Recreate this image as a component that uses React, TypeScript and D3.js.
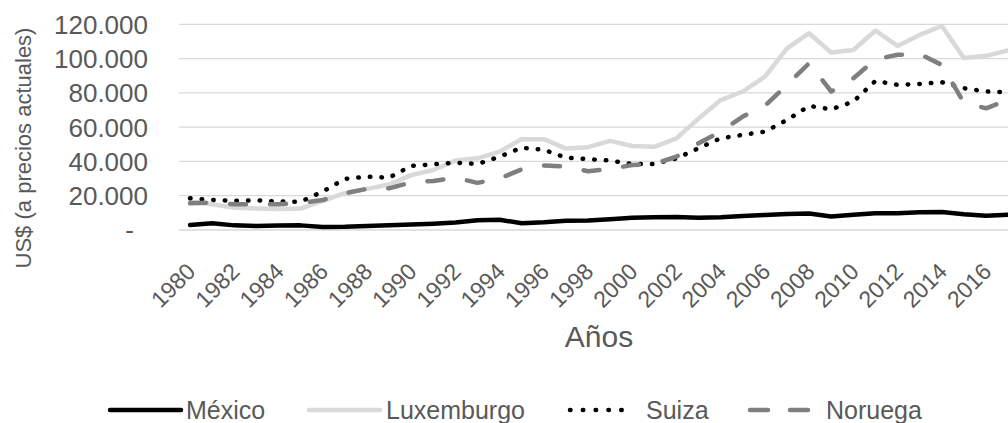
import React from "react";
import * as d3 from "d3";

const years = d3.range(1980, 2018);
const tickYears = d3.range(1980, 2017, 2);
const yTicks = [0, 20000, 40000, 60000, 80000, 100000, 120000];

const mexico = [2900, 3900, 2700, 2300, 2600, 2700, 1800, 1900, 2400, 2800, 3200, 3700, 4400, 5700, 6000, 3900, 4500, 5400, 5600, 6300, 7100, 7500, 7600, 7200, 7500, 8200, 8800, 9300, 9600, 7900, 8900, 9800, 9800, 10300, 10500, 9200, 8300, 8900];
const luxemburgo = [16500, 15000, 13000, 12600, 12300, 12500, 17000, 21500, 24000, 26500, 32000, 35000, 40500, 41800, 45700, 53000, 53000, 47500, 48300, 52000, 49000, 48500, 53500, 65000, 75800, 80800, 89500, 106000, 114800, 103500, 105000, 116400, 107400, 113800, 119000, 100300, 101600, 104700];
const suiza = [18500, 17500, 17100, 17300, 16600, 16500, 22400, 29800, 31100, 30500, 37400, 38300, 39300, 38500, 42800, 48000, 46800, 42200, 41300, 40500, 38500, 38500, 41800, 47700, 53500, 55500, 57400, 64200, 72400, 70400, 74900, 87000, 84700, 85200, 86200, 82700, 80800, 80400];
const noruega = [15600, 16000, 15000, 15000, 15000, 15800, 17500, 21400, 24000, 24300, 27800, 28600, 30500, 27500, 30000, 35400, 37600, 37000, 34300, 35600, 37900, 38500, 42800, 50600, 57400, 66200, 72400, 84700, 97300, 80800, 88500, 99600, 102200, 102700, 96300, 74300, 71000, 75900];

const seriesNames = ["México", "Luxemburgo", "Suiza", "Noruega"];

const W = 1008;
const H = 423;
const FONT = "'Liberation Sans', Arial, sans-serif";
const TXT = "#595959";

type Style = { color: string; dash?: string; cap: "round" | "butt" };
const styles: Style[] = [
  { color: "#000000", cap: "round" },
  { color: "#d9d9d9", cap: "round" },
  { color: "#000000", dash: "0.5 11.1", cap: "round" },
  { color: "#7f7f7f", dash: "16 24", cap: "round" },
];

export default function App() {
  const bw = 22.11;
  const x = d3
    .scaleBand<number>()
    .domain(years)
    .range([179, 179 + bw * years.length])
    .padding(0);
  const xc = (yr: number) => (x(yr) as number) + x.bandwidth() / 2;
  const y = d3.scaleLinear().domain([0, 120000]).range([230, 24.3]);

  const data = [mexico, luxemburgo, suiza, noruega];
  const line = d3
    .line<number>()
    .x((_, i) => xc(years[i]))
    .y((v) => y(v));

  const fmt = (v: number) => (v === 0 ? "-" : d3.format(",")(v).replace(/,/g, "."));

  const legendItems = [
    { x1: 110, x2: 181, tx: 186 },
    { x1: 309, x2: 380, tx: 386 },
    { x1: 570, x2: 634, tx: 646 },
    { x1: 750, x2: 814, tx: 826 },
  ];

  return (
    <svg
      width={W}
      height={H}
      style={{ position: "absolute", left: 0, top: 0, background: "#fff" }}
      fontFamily={FONT}
    >
      <rect x={0} y={0} width={W} height={H} fill="#fff" />
      {yTicks.map((t) => (
        <line key={t} x1={179} x2={W} y1={y(t)} y2={y(t)} stroke="#d9d9d9" strokeWidth={1.3} />
      ))}
      {yTicks.map((t) => (
        <text
          key={"l" + t}
          x={t === 0 ? 134 : 148}
          y={y(t)}
          dy="0.36em"
          textAnchor="end"
          fontSize={26}
          fill={TXT}
        >
          {fmt(t)}
        </text>
      ))}
      <text
        transform={`translate(31,148) rotate(-90)`}
        textAnchor="middle"
        fontSize={22}
        fill={TXT}
      >
        US$ (a precios actuales)
      </text>
      {tickYears.map((yr) => (
        <text
          key={yr}
          transform={`translate(${xc(yr) + 1},267) rotate(-45)`}
          textAnchor="end"
          dy="0.36em"
          fontSize={23}
          fill={TXT}
        >
          {yr}
        </text>
      ))}
      <text x={599} y={347} textAnchor="middle" fontSize={30} fill={TXT}>
        Años
      </text>
      {data.map((d, i) => (
        <path
          key={seriesNames[i]}
          d={line(d) || ""}
          fill="none"
          stroke={styles[i].color}
          strokeWidth={4.5}
          strokeLinejoin="round"
          strokeLinecap={styles[i].cap}
          strokeDasharray={styles[i].dash}
        />
      ))}
      {legendItems.map((it, i) => (
        <g key={"lg" + i}>
          <line
            x1={it.x1}
            x2={it.x2}
            y1={410}
            y2={410}
            stroke={styles[i].color}
            strokeWidth={4.5}
            strokeLinecap={styles[i].cap}
            strokeDasharray={i === 2 ? "0.5 12.3" : i === 3 ? "18 22" : undefined}
          />
          <text x={it.tx} y={419} fontSize={25} fill={TXT}>
            {seriesNames[i]}
          </text>
        </g>
      ))}
    </svg>
  );
}
